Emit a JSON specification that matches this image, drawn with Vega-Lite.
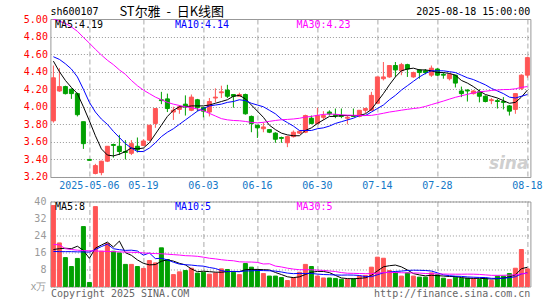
{
"$schema": "https://vega.github.io/schema/vega-lite/v6.json",
"background": "white",
"padding": {"left": 22.4, "top": 5, "right": 5, "bottom": 2},
"spacing": 24.5,
"bounds": "flush",
"config": {
  "font": "DejaVu Sans Mono",
  "view": {"stroke": "#999999", "strokeWidth": 1},
  "axis": {"domain": false, "ticks": false, "labelFont": "DejaVu Sans Mono", "labelFontSize": 10, "title": null, "labelOverlap": false, "labelFlush": false, "labelBound": false}
},
"datasets": {"k": [
{"d":"2025-04-23","o":3.84,"h":4.47,"l":3.82,"c":4.33,"v":38.1,"m5":4.52,"m10":4.57,"m30":5.0,"n5":17.4,"n10":16.5,"n30":19.8},
{"d":"2025-04-24","o":4.18,"h":4.44,"l":4.17,"c":4.23,"v":20.5,"m5":4.40,"m10":4.54,"m30":4.975,"n5":17.8,"n10":16.4,"n30":19.6},
{"d":"2025-04-25","o":4.23,"h":4.24,"l":4.14,"c":4.15,"v":13.6,"m5":4.30,"m10":4.49,"m30":4.95,"n5":18.0,"n10":16.4,"n30":17.8},
{"d":"2025-04-28","o":4.20,"h":4.21,"l":4.09,"c":4.15,"v":9.4,"m5":4.22,"m10":4.43,"m30":4.91,"n5":17.8,"n10":16.4,"n30":17.4},
{"d":"2025-04-29","o":4.15,"h":4.16,"l":3.89,"c":3.91,"v":13.2,"m5":4.15,"m10":4.34,"m30":4.86,"n5":18.96,"n10":16.3,"n30":17.1},
{"d":"2025-04-30","o":3.83,"h":3.83,"l":3.52,"c":3.58,"v":28.2,"m5":4.00,"m10":4.20,"m30":4.79,"n5":16.98,"n10":16.3,"n30":16.9},
{"d":"2025-05-06","o":3.40,"h":3.40,"l":3.39,"c":3.39,"v":1.9,"m5":3.84,"m10":4.05,"m30":4.725,"n5":13.26,"n10":16.2,"n30":16.8},
{"d":"2025-05-07","o":3.24,"h":3.35,"l":3.23,"c":3.33,"v":37.6,"m5":3.67,"m10":3.94,"m30":4.655,"n5":18.06,"n10":17.4,"n30":16.7},
{"d":"2025-05-08","o":3.25,"h":3.385,"l":3.22,"c":3.38,"v":16.6,"m5":3.52,"m10":3.86,"m30":4.59,"n5":19.5,"n10":18.8,"n30":16.6},
{"d":"2025-05-09","o":3.38,"h":3.55,"l":3.37,"c":3.55,"v":20.2,"m5":3.45,"m10":3.80,"m30":4.53,"n5":20.9,"n10":19.93,"n30":16.5},
{"d":"2025-05-12","o":3.57,"h":3.58,"l":3.42,"c":3.56,"v":16.6,"m5":3.44,"m10":3.72,"m30":4.48,"n5":18.58,"n10":17.78,"n30":16.4},
{"d":"2025-05-13","o":3.55,"h":3.68,"l":3.45,"c":3.49,"v":15.8,"m5":3.46,"m10":3.65,"m30":4.42,"n5":21.36,"n10":17.31,"n30":16.3},
{"d":"2025-05-14","o":3.49,"h":3.62,"l":3.40,"c":3.48,"v":10.4,"m5":3.49,"m10":3.58,"m30":4.37,"n5":15.92,"n10":16.99,"n30":16.2},
{"d":"2025-05-15","o":3.47,"h":3.62,"l":3.45,"c":3.58,"v":10.4,"m5":3.53,"m10":3.53,"m30":4.30,"n5":14.68,"n10":17.09,"n30":16.1},
{"d":"2025-05-16","o":3.55,"h":3.65,"l":3.48,"c":3.51,"v":9.4,"m5":3.52,"m10":3.49,"m30":4.24,"n5":12.52,"n10":16.71,"n30":16.0},
{"d":"2025-05-19","o":3.56,"h":3.63,"l":3.55,"c":3.61,"v":8.5,"m5":3.53,"m10":3.49,"m30":4.19,"n5":10.9,"n10":14.74,"n30":15.8},
{"d":"2025-05-20","o":3.62,"h":3.79,"l":3.61,"c":3.79,"v":12.2,"m5":3.59,"m10":3.53,"m30":4.15,"n5":10.18,"n10":15.77,"n30":15.6},
{"d":"2025-05-21","o":3.81,"h":3.98,"l":3.76,"c":3.98,"v":11.1,"m5":3.69,"m10":3.59,"m30":4.11,"n5":10.32,"n10":13.12,"n30":15.5},
{"d":"2025-05-22","o":4.08,"h":4.17,"l":4.03,"c":4.07,"v":18.2,"m5":3.79,"m10":3.66,"m30":4.08,"n5":11.88,"n10":13.28,"n30":15.4},
{"d":"2025-05-23","o":4.09,"h":4.15,"l":3.94,"c":3.98,"v":12.7,"m5":3.89,"m10":3.71,"m30":4.05,"n5":12.54,"n10":12.53,"n30":15.2},
{"d":"2025-05-26","o":3.94,"h":4.00,"l":3.85,"c":3.96,"v":5.6,"m5":3.96,"m10":3.75,"m30":4.03,"n5":11.96,"n10":11.43,"n30":15.0},
{"d":"2025-05-27","o":3.97,"h":4.02,"l":3.92,"c":4.00,"v":6.9,"m5":4.00,"m10":3.80,"m30":4.015,"n5":10.9,"n10":10.54,"n30":14.8},
{"d":"2025-05-28","o":4.03,"h":4.13,"l":3.90,"c":4.00,"v":7.5,"m5":4.00,"m10":3.85,"m30":4.00,"n5":10.18,"n10":10.25,"n30":14.5},
{"d":"2025-05-29","o":3.96,"h":4.14,"l":3.95,"c":4.11,"v":8.6,"m5":4.01,"m10":3.90,"m30":3.99,"n5":8.26,"n10":10.07,"n30":14.4},
{"d":"2025-05-30","o":4.08,"h":4.09,"l":3.95,"c":3.99,"v":6.3,"m5":4.01,"m10":3.95,"m30":3.975,"n5":6.98,"n10":9.76,"n30":14.2},
{"d":"2025-06-03","o":3.99,"h":4.00,"l":3.88,"c":3.95,"v":6.7,"m5":4.01,"m10":3.98,"m30":3.955,"n5":7.2,"n10":9.58,"n30":13.8},
{"d":"2025-06-04","o":3.94,"h":4.10,"l":3.89,"c":4.06,"v":5.8,"m5":4.02,"m10":4.01,"m30":3.925,"n5":6.98,"n10":8.94,"n30":13.3},
{"d":"2025-06-05","o":4.10,"h":4.21,"l":4.05,"c":4.11,"v":6.4,"m5":4.04,"m10":4.02,"m30":3.895,"n5":6.76,"n10":8.47,"n30":13.0},
{"d":"2025-06-06","o":4.16,"h":4.24,"l":4.10,"c":4.17,"v":8.3,"m5":4.06,"m10":4.03,"m30":3.865,"n5":6.7,"n10":7.48,"n30":12.6},
{"d":"2025-06-09","o":4.19,"h":4.25,"l":4.10,"c":4.12,"v":8.0,"m5":4.08,"m10":4.05,"m30":3.851,"n5":7.04,"n10":7.01,"n30":12.3},
{"d":"2025-06-10","o":4.14,"h":4.14,"l":3.99,"c":4.12,"v":6.7,"m5":4.12,"m10":4.06,"m30":3.844,"n5":7.04,"n10":7.12,"n30":12.11},
{"d":"2025-06-11","o":4.12,"h":4.16,"l":4.12,"c":4.14,"v":5.6,"m5":4.13,"m10":4.08,"m30":3.841,"n5":7.0,"n10":6.99,"n30":11.61},
{"d":"2025-06-12","o":4.14,"h":4.15,"l":3.91,"c":3.92,"v":10.8,"m5":4.09,"m10":4.07,"m30":3.833,"n5":7.88,"n10":7.32,"n30":11.52},
{"d":"2025-06-13","o":3.89,"h":3.90,"l":3.71,"c":3.81,"v":9.1,"m5":4.02,"m10":4.04,"m30":3.822,"n5":8.04,"n10":7.37,"n30":11.51},
{"d":"2025-06-16","o":3.79,"h":3.79,"l":3.645,"c":3.76,"v":8.0,"m5":3.95,"m10":4.02,"m30":3.817,"n5":8.04,"n10":7.54,"n30":11.34},
{"d":"2025-06-17","o":3.75,"h":3.82,"l":3.71,"c":3.77,"v":6.1,"m5":3.88,"m10":4.00,"m30":3.823,"n5":7.92,"n10":7.48,"n30":10.6},
{"d":"2025-06-18","o":3.74,"h":3.74,"l":3.70,"c":3.71,"v":4.9,"m5":3.79,"m10":3.96,"m30":3.834,"n5":7.78,"n10":7.39,"n30":10.7},
{"d":"2025-06-19","o":3.70,"h":3.71,"l":3.59,"c":3.63,"v":4.9,"m5":3.74,"m10":3.92,"m30":3.844,"n5":6.6,"n10":7.24,"n30":9.61},
{"d":"2025-06-20","o":3.65,"h":3.66,"l":3.59,"c":3.64,"v":4.2,"m5":3.70,"m10":3.86,"m30":3.852,"n5":5.62,"n10":6.83,"n30":9.2},
{"d":"2025-06-23","o":3.59,"h":3.67,"l":3.54,"c":3.66,"v":2.8,"m5":3.68,"m10":3.82,"m30":3.856,"n5":4.58,"n10":6.31,"n30":8.62},
{"d":"2025-06-24","o":3.66,"h":3.73,"l":3.65,"c":3.71,"v":4.1,"m5":3.67,"m10":3.78,"m30":3.861,"n5":4.18,"n10":6.05,"n30":8.2},
{"d":"2025-06-25","o":3.70,"h":3.73,"l":3.69,"c":3.72,"v":6.7,"m5":3.67,"m10":3.73,"m30":3.869,"n5":4.54,"n10":6.16,"n30":7.9},
{"d":"2025-06-26","o":3.71,"h":3.91,"l":3.70,"c":3.90,"v":10.4,"m5":3.73,"m10":3.73,"m30":3.883,"n5":5.64,"n10":6.12,"n30":7.9},
{"d":"2025-06-27","o":3.87,"h":3.90,"l":3.80,"c":3.81,"v":9.4,"m5":3.76,"m10":3.73,"m30":3.89,"n5":6.68,"n10":6.15,"n30":7.86},
{"d":"2025-06-30","o":3.81,"h":3.99,"l":3.80,"c":3.90,"v":4.9,"m5":3.81,"m10":3.75,"m30":3.903,"n5":7.1,"n10":5.84,"n30":7.71},
{"d":"2025-07-01","o":3.88,"h":3.95,"l":3.85,"c":3.90,"v":4.0,"m5":3.85,"m10":3.76,"m30":3.913,"n5":7.08,"n10":5.63,"n30":7.56},
{"d":"2025-07-02","o":3.94,"h":3.96,"l":3.90,"c":3.92,"v":4.0,"m5":3.89,"m10":3.78,"m30":3.917,"n5":6.54,"n10":5.54,"n30":7.29},
{"d":"2025-07-03","o":3.91,"h":3.98,"l":3.87,"c":3.90,"v":3.8,"m5":3.89,"m10":3.81,"m30":3.915,"n5":5.22,"n10":5.43,"n30":7.05},
{"d":"2025-07-04","o":3.90,"h":3.98,"l":3.87,"c":3.89,"v":3.4,"m5":3.90,"m10":3.83,"m30":3.909,"n5":4.02,"n10":5.35,"n30":6.55},
{"d":"2025-07-07","o":3.87,"h":3.90,"l":3.80,"c":3.88,"v":3.4,"m5":3.90,"m10":3.85,"m30":3.905,"n5":3.72,"n10":5.41,"n30":6.24},
{"d":"2025-07-08","o":3.90,"h":3.98,"l":3.89,"c":3.89,"v":3.6,"m5":3.90,"m10":3.87,"m30":3.903,"n5":3.64,"n10":5.36,"n30":6.18},
{"d":"2025-07-09","o":3.89,"h":3.96,"l":3.88,"c":3.96,"v":4.9,"m5":3.90,"m10":3.90,"m30":3.902,"n5":3.82,"n10":5.18,"n30":6.11},
{"d":"2025-07-10","o":3.96,"h":3.99,"l":3.93,"c":3.98,"v":5.2,"m5":3.92,"m10":3.90,"m30":3.901,"n5":4.1,"n10":4.66,"n30":6.03},
{"d":"2025-07-11","o":3.96,"h":4.17,"l":3.96,"c":4.13,"v":9.1,"m5":3.97,"m10":3.94,"m30":3.902,"n5":5.24,"n10":4.63,"n30":6.05},
{"d":"2025-07-14","o":4.04,"h":4.34,"l":4.04,"c":4.34,"v":13.8,"m5":4.06,"m10":3.98,"m30":3.913,"n5":7.32,"n10":5.52,"n30":6.3},
{"d":"2025-07-15","o":4.32,"h":4.51,"l":4.30,"c":4.34,"v":13.3,"m5":4.15,"m10":4.02,"m30":3.926,"n5":9.26,"n10":6.45,"n30":6.52},
{"d":"2025-07-16","o":4.34,"h":4.47,"l":4.33,"c":4.47,"v":7.5,"m5":4.25,"m10":4.08,"m30":3.94,"n5":9.78,"n10":6.8,"n30":6.58},
{"d":"2025-07-17","o":4.47,"h":4.51,"l":4.34,"c":4.42,"v":6.7,"m5":4.34,"m10":4.13,"m30":3.95,"n5":10.08,"n10":7.09,"n30":6.59},
{"d":"2025-07-18","o":4.41,"h":4.50,"l":4.36,"c":4.48,"v":4.9,"m5":4.41,"m10":4.19,"m30":3.961,"n5":9.24,"n10":7.24,"n30":6.47},
{"d":"2025-07-21","o":4.48,"h":4.49,"l":4.34,"c":4.43,"v":6.4,"m5":4.43,"m10":4.24,"m30":3.971,"n5":7.76,"n10":7.54,"n30":6.42},
{"d":"2025-07-22","o":4.34,"h":4.40,"l":4.33,"c":4.39,"v":4.9,"m5":4.44,"m10":4.29,"m30":3.98,"n5":6.08,"n10":7.67,"n30":6.36},
{"d":"2025-07-23","o":4.42,"h":4.43,"l":4.32,"c":4.39,"v":4.4,"m5":4.42,"m10":4.34,"m30":3.988,"n5":5.46,"n10":7.62,"n30":6.32},
{"d":"2025-07-24","o":4.41,"h":4.43,"l":4.37,"c":4.39,"v":4.4,"m5":4.42,"m10":4.38,"m30":4.004,"n5":5.0,"n10":7.54,"n30":6.11},
{"d":"2025-07-25","o":4.36,"h":4.47,"l":4.34,"c":4.44,"v":6.4,"m5":4.41,"m10":4.41,"m30":4.025,"n5":5.3,"n10":7.27,"n30":6.02},
{"d":"2025-07-28","o":4.43,"h":4.44,"l":4.35,"c":4.36,"v":5.5,"m5":4.39,"m10":4.41,"m30":4.045,"n5":5.12,"n10":6.44,"n30":5.93},
{"d":"2025-07-29","o":4.37,"h":4.39,"l":4.32,"c":4.36,"v":3.9,"m5":4.39,"m10":4.41,"m30":4.065,"n5":4.92,"n10":5.5,"n30":5.86},
{"d":"2025-07-30","o":4.32,"h":4.38,"l":4.30,"c":4.37,"v":3.3,"m5":4.38,"m10":4.40,"m30":4.087,"n5":4.7,"n10":5.08,"n30":5.81},
{"d":"2025-07-31","o":4.36,"h":4.36,"l":4.22,"c":4.27,"v":4.4,"m5":4.36,"m10":4.39,"m30":4.108,"n5":4.7,"n10":4.85,"n30":5.79},
{"d":"2025-08-01","o":4.18,"h":4.23,"l":4.11,"c":4.15,"v":3.9,"m5":4.30,"m10":4.36,"m30":4.125,"n5":4.2,"n10":4.75,"n30":5.78},
{"d":"2025-08-04","o":4.19,"h":4.20,"l":4.06,"c":4.18,"v":3.9,"m5":4.27,"m10":4.33,"m30":4.142,"n5":3.88,"n10":4.5,"n30":5.82},
{"d":"2025-08-05","o":4.15,"h":4.19,"l":4.14,"c":4.18,"v":3.6,"m5":4.23,"m10":4.31,"m30":4.158,"n5":3.82,"n10":4.37,"n30":5.8},
{"d":"2025-08-06","o":4.17,"h":4.20,"l":4.05,"c":4.12,"v":3.3,"m5":4.18,"m10":4.28,"m30":4.171,"n5":3.82,"n10":4.26,"n30":5.69},
{"d":"2025-08-07","o":4.12,"h":4.13,"l":4.05,"c":4.06,"v":3.9,"m5":4.14,"m10":4.25,"m30":4.177,"n5":3.72,"n10":4.21,"n30":5.47},
{"d":"2025-08-08","o":4.07,"h":4.10,"l":4.03,"c":4.08,"v":2.8,"m5":4.12,"m10":4.21,"m30":4.186,"n5":3.5,"n10":3.85,"n30":5.25},
{"d":"2025-08-11","o":4.07,"h":4.09,"l":3.98,"c":4.06,"v":4.9,"m5":4.10,"m10":4.18,"m30":4.191,"n5":3.7,"n10":3.79,"n30":5.25},
{"d":"2025-08-12","o":4.06,"h":4.11,"l":3.97,"c":4.05,"v":4.9,"m5":4.07,"m10":4.15,"m30":4.196,"n5":3.96,"n10":3.89,"n30":5.28},
{"d":"2025-08-13","o":4.01,"h":4.02,"l":3.90,"c":3.95,"v":6.1,"m5":4.04,"m10":4.11,"m30":4.197,"n5":4.52,"n10":4.17,"n30":5.35},
{"d":"2025-08-14","o":3.97,"h":4.15,"l":3.92,"c":4.15,"v":8.6,"m5":4.05,"m10":4.10,"m30":4.205,"n5":5.46,"n10":4.59,"n30":5.51},
{"d":"2025-08-15","o":4.21,"h":4.37,"l":4.19,"c":4.36,"v":17.4,"m5":4.11,"m10":4.12,"m30":4.221,"n5":8.38,"n10":5.94,"n30":5.98},
{"d":"2025-08-18","o":4.36,"h":4.57,"l":4.33,"c":4.56,"v":8.3,"m5":4.19,"m10":4.14,"m30":4.23,"n5":9.06,"n10":6.38,"n30":6.14}
]},
"vconcat": [
{
  "width": 480, "height": 158,
  "data": {"name": "k"},
  "encoding": {
    "x": {"field": "d", "type": "ordinal", "bandPosition": 0.5,
      "scale": {"type": "band", "paddingInner": 0, "paddingOuter": 0},
      "axis": {"values": ["2025-05-06","2025-05-19","2025-06-03","2025-06-16","2025-06-30","2025-07-14","2025-07-28","2025-08-18"],
        "labelExpr": "datum.value == '2025-05-06' ? datum.value : slice(datum.value, 5)",
        "labelColor": "#1478C8", "labelPadding": 4, "labelAngle": 0, "labelOverlap": false, "labelFlush": false,
        "grid": true, "gridDash": [5, 3], "gridColor": "#aaaaaa", "bandPosition": 0.5}}
  },
  "layer": [
    {"mark": {"type": "rule", "strokeWidth": 1},
     "encoding": {
       "y": {"field": "l", "type": "quantitative", "scale": {"domain": [3.2, 5.0], "nice": false, "zero": false},
         "axis": {"values": [3.2,3.4,3.6,3.8,4.0,4.2,4.4,4.6,4.8,5.0], "tickCount": 20, "format": ".2f", "labelColor": "#FF0000", "labelPadding": 3,
           "labelOverlap": false, "labelFlush": false, "grid": true, "gridDash": [1, 2], "gridColor": "#999999"}},
       "y2": {"field": "h"},
       "color": {"condition": {"test": "datum.c >= datum.o", "value": "#FF5555"}, "value": "#00A000"}
     }},
    {"mark": {"type": "bar", "width": 4, "strokeWidth": 1},
     "encoding": {
       "y": {"field": "o", "type": "quantitative"},
       "y2": {"field": "c"},
       "fill": {"condition": {"test": "datum.c >= datum.o", "value": "#FF5555"}, "value": "#00A000"},
       "stroke": {"condition": {"test": "datum.c >= datum.o", "value": "#FF5555"}, "value": "#00A000"}
     }},
    {"mark": {"type": "line", "color": "#000000", "strokeWidth": 1, "clip": true},
     "encoding": {"y": {"field": "m5", "type": "quantitative"}}},
    {"mark": {"type": "line", "color": "#0000FF", "strokeWidth": 1, "clip": true},
     "encoding": {"y": {"field": "m10", "type": "quantitative"}}},
    {"mark": {"type": "line", "color": "#FF00FF", "strokeWidth": 1, "clip": true},
     "encoding": {"y": {"field": "m30", "type": "quantitative"}}},
    {"data": {"values": [{}]},
     "mark": {"type": "text", "text": "sh600107", "align": "left", "baseline": "middle", "dy": -7.5, "fontSize": 10, "font": "DejaVu Sans Mono", "color": "#000000"},
     "encoding": {"x": {"datum": "2025-04-23", "bandPosition": 0}, "y": {"datum": 5.0}}},
    {"data": {"values": [{}]},
     "mark": {"type": "text", "text": "ST尔雅\u00a0\u00a0-\u00a0\u00a0日K线图", "align": "left", "baseline": "middle", "dy": -7.5, "dx": 3, "fontSize": 13, "font": "Noto Sans CJK SC", "color": "#000000"},
     "encoding": {"x": {"datum": "2025-05-13", "bandPosition": 0}, "y": {"datum": 5.0}}},
    {"data": {"values": [{}]},
     "mark": {"type": "text", "text": "2025-08-18 15:00:00", "align": "right", "baseline": "middle", "dy": -7.5, "fontSize": 10, "font": "DejaVu Sans Mono", "color": "#000000"},
     "encoding": {"x": {"datum": "2025-08-18", "bandPosition": 1}, "y": {"datum": 5.0}}},
    {"data": {"values": [{}]},
     "mark": {"type": "text", "text": "MA5:4.19", "align": "left", "baseline": "middle", "dy": 6, "dx": 4.5, "fontSize": 10, "font": "DejaVu Sans Mono", "color": "#000000"},
     "encoding": {"x": {"datum": "2025-04-23", "bandPosition": 0}, "y": {"datum": 5.0}}},
    {"data": {"values": [{}]},
     "mark": {"type": "text", "text": "MA10:4.14", "align": "left", "baseline": "middle", "dy": 6, "dx": 4.5, "fontSize": 10, "font": "DejaVu Sans Mono", "color": "#0000FF"},
     "encoding": {"x": {"datum": "2025-05-26", "bandPosition": 0}, "y": {"datum": 5.0}}},
    {"data": {"values": [{}]},
     "mark": {"type": "text", "text": "MA30:4.23", "align": "left", "baseline": "middle", "dy": 6, "dx": 0, "fontSize": 10, "font": "DejaVu Sans Mono", "color": "#FF00FF"},
     "encoding": {"x": {"datum": "2025-06-25", "bandPosition": 0}, "y": {"datum": 5.0}}},
    {"data": {"values": [{}]},
     "mark": {"type": "text", "text": "sina", "align": "right", "baseline": "bottom", "dy": -4, "dx": -2, "fontSize": 17, "fontStyle": "italic", "fontWeight": "bold", "font": "DejaVu Sans", "color": "#cfcfcf"},
     "encoding": {"x": {"datum": "2025-08-18", "bandPosition": 1}, "y": {"datum": 3.2}}}
  ]
},
{
  "width": 480, "height": 85,
  "data": {"name": "k"},
  "encoding": {
    "x": {"field": "d", "type": "ordinal", "bandPosition": 0.5,
      "scale": {"type": "band", "paddingInner": 0, "paddingOuter": 0},
      "axis": {"values": ["2025-05-06","2025-05-19","2025-06-03","2025-06-16","2025-06-30","2025-07-14","2025-07-28","2025-08-18"],
        "labels": false, "grid": true, "gridDash": [5, 3], "gridColor": "#aaaaaa", "bandPosition": 0.5}}
  },
  "layer": [
    {"mark": {"type": "bar", "width": 4, "strokeWidth": 1},
     "encoding": {
       "y": {"field": "v", "type": "quantitative", "scale": {"domain": [0, 40], "nice": false},
         "axis": {"values": [0, 8, 16, 24, 32, 40], "tickCount": 20, "labelExpr": "datum.value == 0 ? 'x万' : datum.label", "labelColor": "#999999", "labelPadding": 4.5,
           "labelOverlap": false, "labelFlush": false, "grid": true, "gridDash": [1, 2], "gridColor": "#999999"}},
       "fill": {"condition": {"test": "datum.c >= datum.o", "value": "#FF5555"}, "value": "#00A000"},
       "stroke": {"condition": {"test": "datum.c >= datum.o", "value": "#FF5555"}, "value": "#00A000"}
     }},
    {"mark": {"type": "line", "color": "#000000", "strokeWidth": 1, "clip": true},
     "encoding": {"y": {"field": "n5", "type": "quantitative"}}},
    {"mark": {"type": "line", "color": "#0000FF", "strokeWidth": 1, "clip": true},
     "encoding": {"y": {"field": "n10", "type": "quantitative"}}},
    {"mark": {"type": "line", "color": "#FF00FF", "strokeWidth": 1, "clip": true},
     "encoding": {"y": {"field": "n30", "type": "quantitative"}}},
    {"data": {"values": [{}]},
     "mark": {"type": "text", "text": "MA5:8", "align": "left", "baseline": "middle", "dy": 5.5, "dx": 4.5, "fontSize": 10, "font": "DejaVu Sans Mono", "color": "#000000"},
     "encoding": {"x": {"datum": "2025-04-23", "bandPosition": 0}, "y": {"datum": 40}}},
    {"data": {"values": [{}]},
     "mark": {"type": "text", "text": "MA10:5", "align": "left", "baseline": "middle", "dy": 5.5, "dx": 4.5, "fontSize": 10, "font": "DejaVu Sans Mono", "color": "#0000FF"},
     "encoding": {"x": {"datum": "2025-05-26", "bandPosition": 0}, "y": {"datum": 40}}},
    {"data": {"values": [{}]},
     "mark": {"type": "text", "text": "MA30:5", "align": "left", "baseline": "middle", "dy": 5.5, "dx": 0, "fontSize": 10, "font": "DejaVu Sans Mono", "color": "#FF00FF"},
     "encoding": {"x": {"datum": "2025-06-25", "bandPosition": 0}, "y": {"datum": 40}}},
    {"data": {"values": [{}]},
     "mark": {"type": "text", "text": "Copyright 2025 SINA.COM", "align": "left", "baseline": "middle", "dy": 7.5, "dx": 0.5, "fontSize": 10, "font": "DejaVu Sans Mono", "color": "#666666"},
     "encoding": {"x": {"datum": "2025-04-23", "bandPosition": 0}, "y": {"datum": 0}}},
    {"data": {"values": [{}]},
     "mark": {"type": "text", "text": "http://finance.sina.com.cn", "align": "right", "baseline": "middle", "dy": 7.5, "dx": 0, "fontSize": 10, "font": "DejaVu Sans Mono", "color": "#666666"},
     "encoding": {"x": {"datum": "2025-08-18", "bandPosition": 1}, "y": {"datum": 0}}}
  ]
}
]
}
